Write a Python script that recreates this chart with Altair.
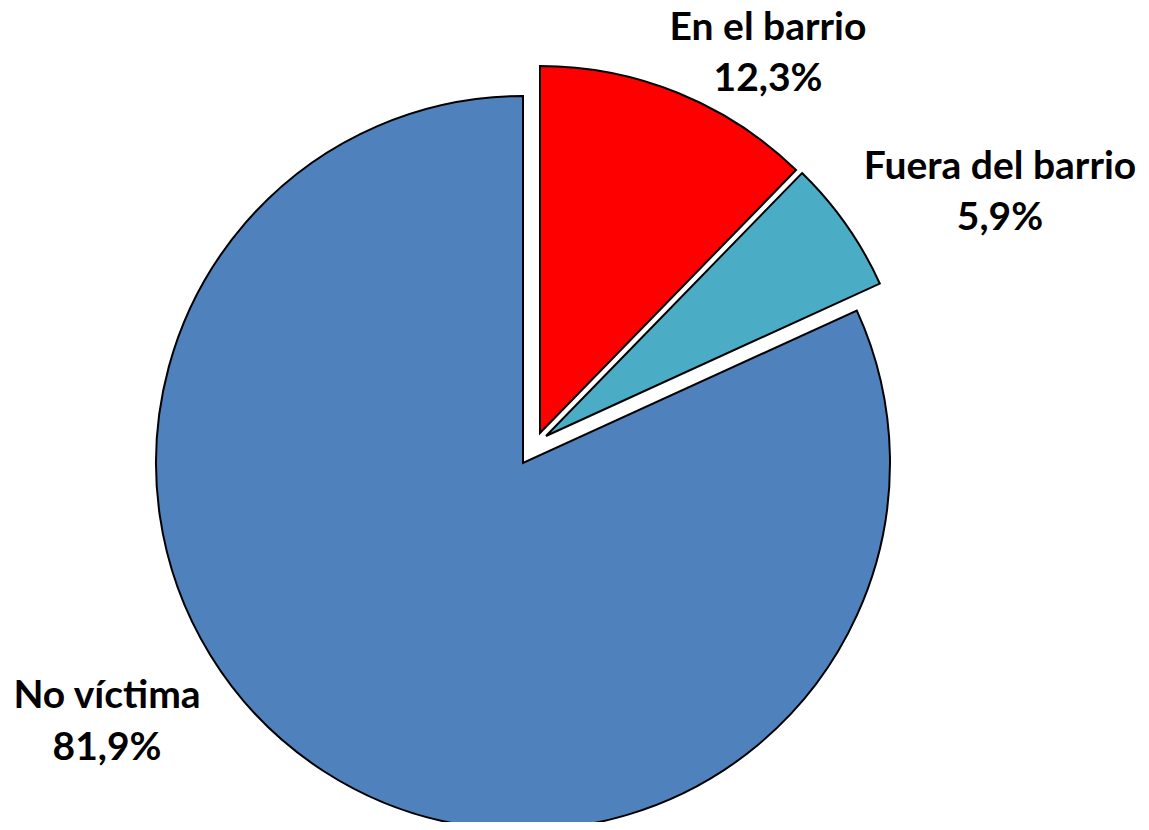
import altair as alt
import pandas as pd

# Data
categories = ["En el barrio", "Fuera del barrio", "No víctima"]
values = [12.3, 5.9, 81.9]
value_labels = ["12,3%", "5,9%", "81,9%"]
colors = ["#FF0000", "#4BACC6", "#4F81BD"]

# Layout (pixel positions of each slice's apex, exploded slices shifted)
apex_x = [532, 538, 515]
apex_y = [425, 428, 455]
RADIUS = 367
label_x = [760, 992, 99]
label_y1 = [32, 171, 700]
label_y2 = [83, 222, 752]

df = pd.DataFrame({
    "cat": categories,
    "value": values,
    "order": list(range(len(categories))),
    "color": colors,
    "cx": apex_x,
    "cy": apex_y,
})

arcs = alt.Chart(df).mark_arc(stroke="black", strokeWidth=2, radius=RADIUS).encode(
    theta=alt.Theta("value:Q", stack=True, scale=alt.Scale(domain=[0, sum(values)])),
    order=alt.Order("order:Q"),
    color=alt.Color("color:N", scale=None),
    x=alt.X("cx:Q", scale=None),
    y=alt.Y("cy:Q", scale=None),
)

lab = pd.DataFrame({
    "name": categories,
    "pct": value_labels,
    "lx": label_x,
    "ly1": label_y1,
    "ly2": label_y2,
})

font = "Lato"
t1 = alt.Chart(lab).mark_text(font=font, fontWeight="bold", fontSize=39, color="black",
                              align="center", baseline="alphabetic").encode(
    x=alt.X("lx:Q", scale=None), y=alt.Y("ly1:Q", scale=None), text="name:N")
t2 = alt.Chart(lab).mark_text(font=font, fontWeight="bold", fontSize=39, color="black",
                              align="center", baseline="alphabetic").encode(
    x=alt.X("lx:Q", scale=None), y=alt.Y("ly2:Q", scale=None), text="pct:N")

chart = alt.layer(arcs, t1, t2).properties(
    width=1133, height=814, autosize=alt.AutoSizeParams(type="none"), padding=0
).configure_view(stroke=None)

chart.save("out.html", embed_options={"renderer": "svg", "actions": False})
